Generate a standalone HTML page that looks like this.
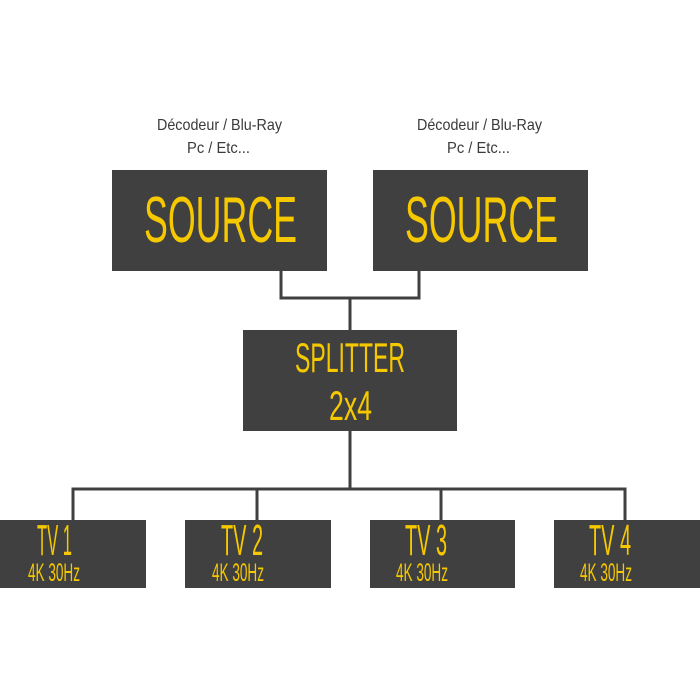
<!DOCTYPE html>
<html><head><meta charset="utf-8"><style>
html,body{margin:0;padding:0;background:#fff;}
svg{display:block}
text{font-family:"Liberation Sans Narrow","Liberation Sans",sans-serif;}
.y{fill:#f5c800;}
.g{fill:#3a3a3a;}
</style></head><body>
<svg width="700" height="700" viewBox="0 0 700 700" xmlns="http://www.w3.org/2000/svg">
<rect width="700" height="700" fill="#fff"/>
<g fill="none" stroke="#404040" stroke-width="3">
<polyline points="281,271 281,298 419,298 419,271"/>
<line x1="350" y1="298" x2="350" y2="330"/>
<line x1="350" y1="431" x2="350" y2="489"/>
<polyline points="73,520 73,489 625,489 625,520"/>
<line x1="257" y1="489" x2="257" y2="520"/>
<line x1="441" y1="489" x2="441" y2="520"/>
</g>
<g font-size="16">
<text class="g" x="157" y="130" textLength="125" lengthAdjust="spacingAndGlyphs">Décodeur / Blu-Ray</text>
<text class="g" x="187" y="153" textLength="63" lengthAdjust="spacingAndGlyphs">Pc / Etc...</text>
<text class="g" x="417" y="130" textLength="125" lengthAdjust="spacingAndGlyphs">Décodeur / Blu-Ray</text>
<text class="g" x="447" y="153" textLength="63" lengthAdjust="spacingAndGlyphs">Pc / Etc...</text>
</g>
<g fill="#404040">
<rect x="112" y="170" width="215" height="101"/>
<rect x="373" y="170" width="215" height="101"/>
<rect x="243" y="330" width="214" height="101"/>
<rect x="0" y="520" width="146" height="68"/>
<rect x="185" y="520" width="146" height="68"/>
<rect x="370" y="520" width="145" height="68"/>
<rect x="554" y="520" width="146" height="68"/>
</g>
<g class="y">
<text x="144" y="242" font-size="65" textLength="153" lengthAdjust="spacingAndGlyphs">SOURCE</text>
<text x="405" y="242" font-size="65" textLength="153" lengthAdjust="spacingAndGlyphs">SOURCE</text>
<text x="295" y="372" font-size="42" textLength="110" lengthAdjust="spacingAndGlyphs">SPLITTER</text>
<text x="329" y="420" font-size="42" textLength="43" lengthAdjust="spacingAndGlyphs">2x4</text>
<g font-size="44">
<text x="37" y="555" textLength="35" lengthAdjust="spacingAndGlyphs">TV 1</text>
<text x="221" y="555" textLength="42" lengthAdjust="spacingAndGlyphs">TV 2</text>
<text x="405" y="555" textLength="42" lengthAdjust="spacingAndGlyphs">TV 3</text>
<text x="589" y="555" textLength="42" lengthAdjust="spacingAndGlyphs">TV 4</text>
</g>
<g font-size="25">
<text x="28" y="581" textLength="52" lengthAdjust="spacingAndGlyphs">4K 30Hz</text>
<text x="212" y="581" textLength="52" lengthAdjust="spacingAndGlyphs">4K 30Hz</text>
<text x="396" y="581" textLength="52" lengthAdjust="spacingAndGlyphs">4K 30Hz</text>
<text x="580" y="581" textLength="52" lengthAdjust="spacingAndGlyphs">4K 30Hz</text>
</g>
</g>
</svg>
</body></html>
